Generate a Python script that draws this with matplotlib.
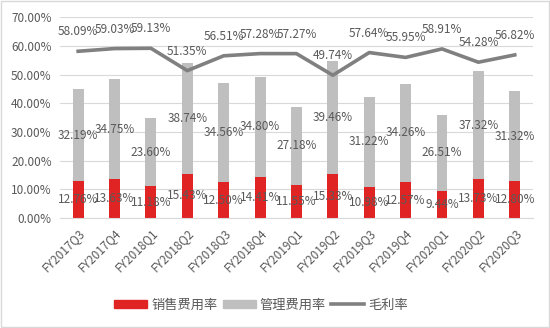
import numpy as np
import matplotlib.pyplot as plt
from matplotlib.patches import Patch
from matplotlib.lines import Line2D

plt.rcParams['font.family'] = ['Noto Sans CJK SC', 'DejaVu Sans']

quarters = ["FY2017Q3", "FY2017Q4", "FY2018Q1", "FY2018Q2", "FY2018Q3", "FY2018Q4",
            "FY2019Q1", "FY2019Q2", "FY2019Q3", "FY2019Q4", "FY2020Q1", "FY2020Q2", "FY2020Q3"]
sales = [12.76, 13.63, 11.18, 15.43, 12.50, 14.41, 11.55, 15.33, 10.98, 12.57, 9.44, 13.73, 12.80]
admin = [32.19, 34.75, 23.60, 38.74, 34.56, 34.80, 27.18, 39.46, 31.22, 34.26, 26.51, 37.32, 31.32]
gross = [58.09, 59.03, 59.13, 51.35, 56.51, 57.28, 57.27, 49.74, 57.64, 55.95, 58.91, 54.28, 56.82]

red = '#E02424'
lgray = '#BFBFBF'
dgray = '#808080'
txt = '#595959'

fig = plt.figure(figsize=(5.5, 3.28), dpi=100)
ax = fig.add_axes([0.109, 0.335, 0.86, 0.613])

x = np.arange(len(quarters))
s = np.array(sales)
a = np.array(admin)
g = np.array(gross)

ax.bar(x, s, width=0.3, color=red, zorder=2)
ax.bar(x, a, width=0.3, bottom=s, color=lgray, zorder=2)
ax.plot(x, g, color=dgray, lw=2.6, zorder=3)

fs = 8.5
for i in range(len(x)):
    ax.text(x[i], s[i] / 2, f"{s[i]:.2f}%", ha='center', va='center', fontsize=fs, color=txt, zorder=4)
    ax.text(x[i], s[i] + a[i] / 2, f"{a[i]:.2f}%", ha='center', va='center', fontsize=fs, color=txt, zorder=4)
    ax.text(x[i], g[i] + 4.5, f"{g[i]:.2f}%", ha='center', va='bottom', fontsize=fs, color=txt, zorder=4)

ax.set_xlim(-0.5, len(x) - 0.5)
ax.set_ylim(0, 70)
ax.set_yticks(np.arange(0, 71, 10))
ax.set_yticklabels([f"{v:.2f}%" for v in np.arange(0, 71, 10)], fontsize=fs, color=txt)
ax.set_xticks(x)
ax.set_xticklabels(quarters, rotation=45, ha='right', rotation_mode='anchor', fontsize=fs, color=txt)
ax.tick_params(length=0)
ax.tick_params(axis='y', pad=6)
ax.tick_params(axis='x', pad=6)
ax.grid(axis='y', color='#D9D9D9', lw=0.8, zorder=0)
for sp in ['top', 'right', 'left']:
    ax.spines[sp].set_visible(False)
ax.spines['bottom'].set_color('#D9D9D9')

handles = [Patch(color=red), Patch(color=lgray), Line2D([0], [0], color=dgray, lw=2.6)]
fig.legend(handles, ["销售费用率", "管理费用率", "毛利率"], loc='center', bbox_to_anchor=(0.475, 0.07),
           ncol=3, frameon=False, fontsize=9.5, handlelength=2.5, handleheight=0.55,
           columnspacing=0.4, handletextpad=0.3, labelcolor=txt)

border = plt.Rectangle((0.002, 0.003), 0.996, 0.994, transform=fig.transFigure, fill=False,
                       edgecolor='#D9D9D9', lw=1)
fig.patches.append(border)

fig.savefig('out.png', dpi=100)
